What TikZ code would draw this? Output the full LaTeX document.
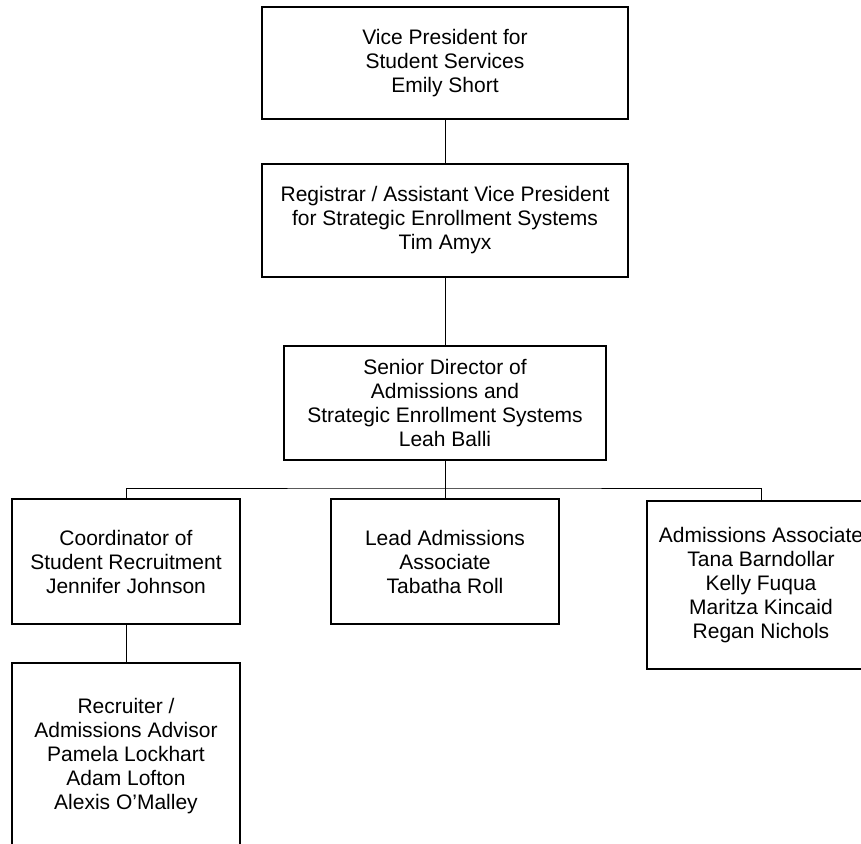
\documentclass[tikz,border=0pt]{standalone}
\usepackage{fontspec}
\setmainfont{Liberation Sans}
\usepackage{tikz}
\usetikzlibrary{positioning}

\begin{document}
\begin{tikzpicture}[x=1pt,y=-1pt,
    orgbox/.style={draw,line width=1.5pt,inner sep=0pt,align=center,
      font=\fontsize{21}{24}\selectfont},
    link/.style={line width=1pt}]
    \useasboundingbox (0,0) rectangle (861,843);
    \fill[white] (0,0) rectangle (861,843);
    \clip (0,0) rectangle (861,843);
    % --- cadena superior ---
    \node[orgbox,minimum width=366pt,minimum height=112pt] (vp) at (445,63)
      {Vice President for\\Student Services\\Emily Short};
    \node[orgbox,minimum width=366pt,minimum height=113pt] (reg) at (445,220.5)
      {Registrar / Assistant Vice President\\for Strategic Enrollment Systems\\Tim Amyx};
    \node[orgbox,minimum width=322pt,minimum height=114pt] (sen) at (445,403)
      {Senior Director of\\Admissions and\\Strategic Enrollment Systems\\Leah Balli};
    \draw[link] (vp) -- (reg);
    \draw[link] (reg) -- (sen);
    % --- segundo nivel ---
    \node[orgbox,minimum width=228pt,minimum height=125pt] (coord) at (126,561.5)
      {Coordinator of\\Student Recruitment\\Jennifer Johnson};
    \node[orgbox,minimum width=228pt,minimum height=125pt] (lead) at (445,561.5)
      {Lead Admissions\\Associate\\Tabatha Roll};
    \node[orgbox,minimum width=228pt,minimum height=168pt] (assoc) at (761,585)
      {Admissions Associate\\Tana Barndollar\\Kelly Fuqua\\Maritza Kincaid\\Regan Nichols};
    % barra horizontal
    \coordinate (bus) at (445,488);
    \draw[link] (sen.south) -- (bus);
    \draw[link] (coord.north) |- (bus) -| (assoc.north);
    \draw[link] (bus) -- (lead.north);
    % --- tercer nivel ---
    \node[orgbox,minimum width=228pt,minimum height=186pt] (recr) at (126,756)
      {Recruiter /\\Admissions Advisor\\Pamela Lockhart\\Adam Lofton\\Alexis O’Malley};
    \draw[link] (coord) -- (recr);
\end{tikzpicture}
\end{document}
